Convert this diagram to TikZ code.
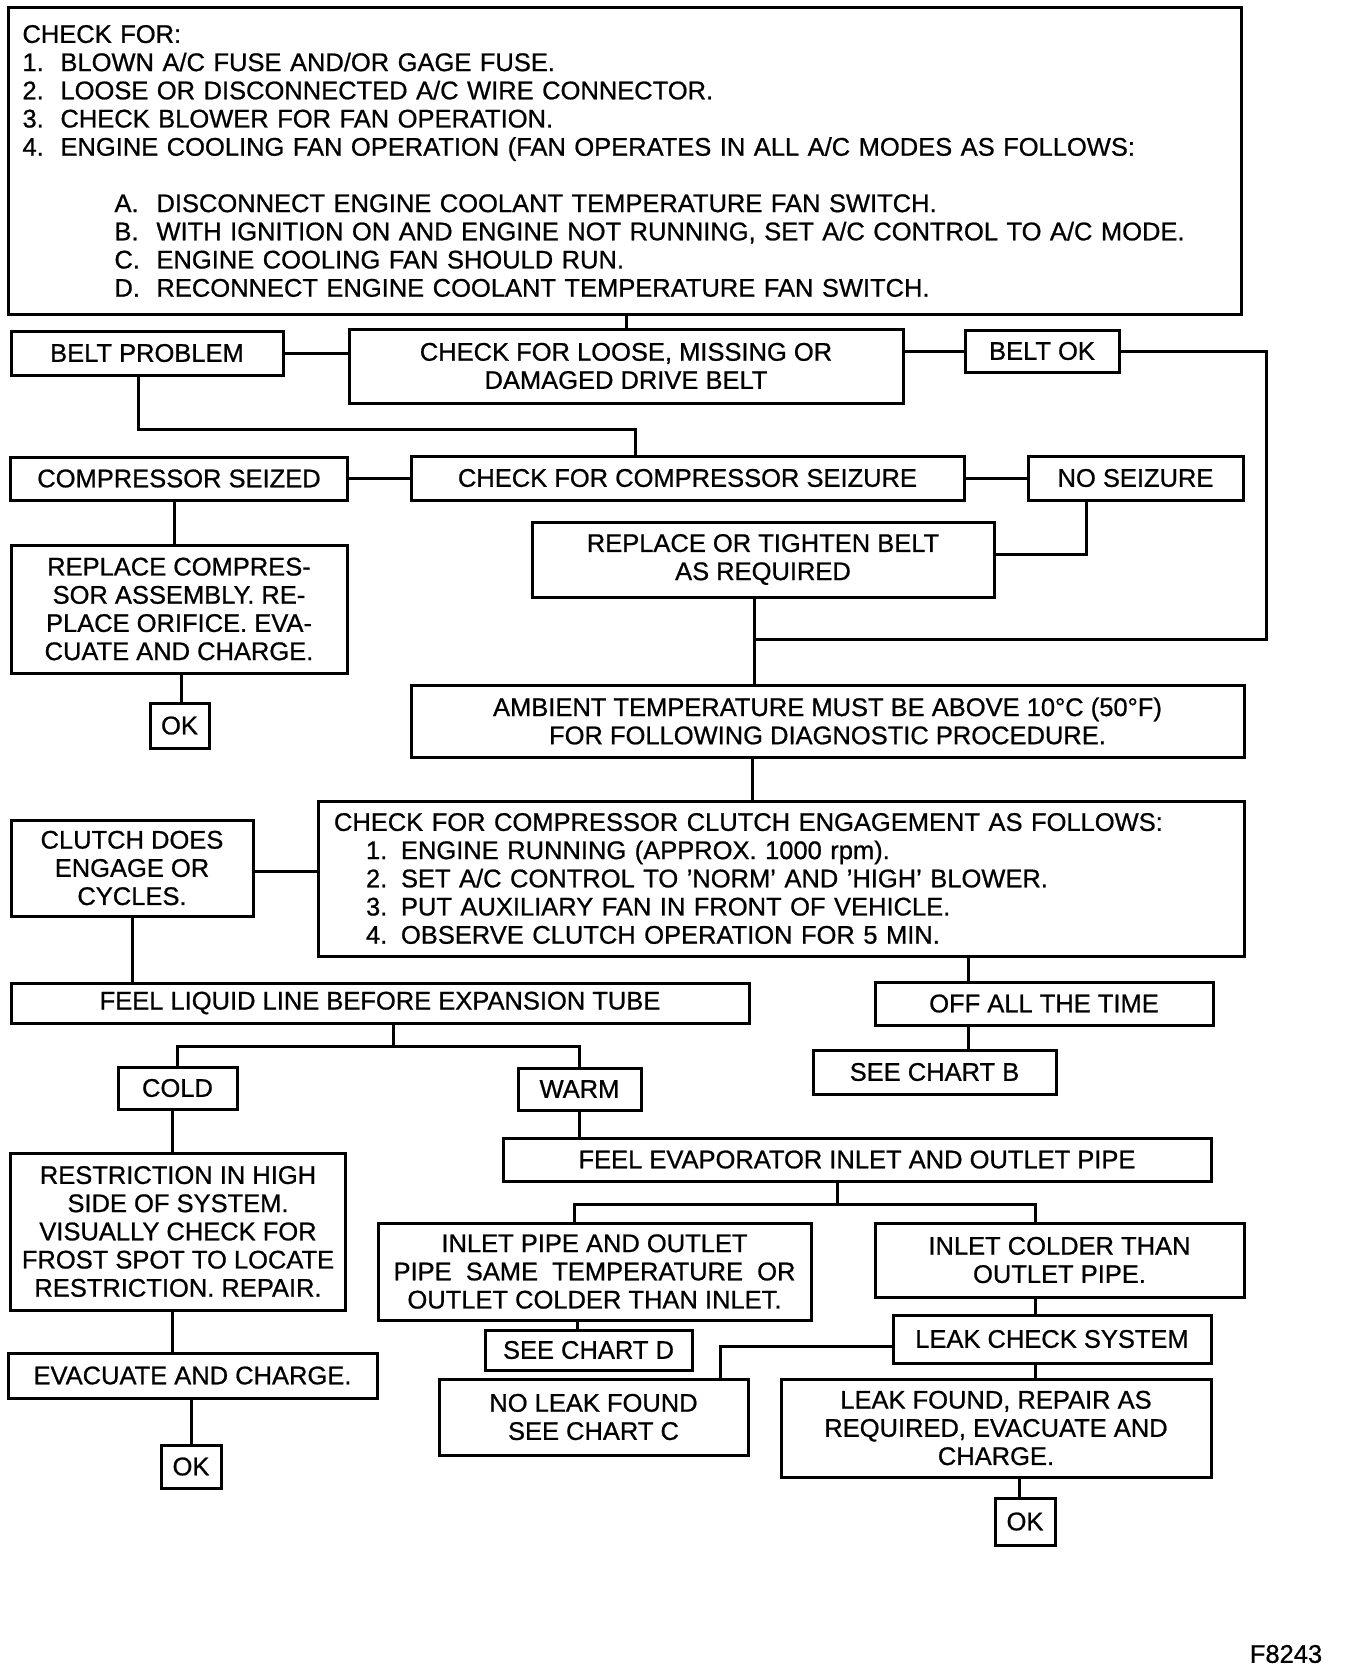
\documentclass[tikz,border=0pt]{standalone}
\usepackage{fontspec}
\setmainfont{Liberation Sans}[FakeBold=0.8]
\begin{document}
\begin{tikzpicture}[x=1pt,y=-1pt,
    every node/.style={font=\fontsize{25.5}{28.2}\selectfont},
    box/.style={draw,line width=3pt,align=center,inner sep=0pt},
    sz/.style 2 args={minimum width=#1,minimum height=#2},
    lnk/.style={line width=3pt}]
  \useasboundingbox (0,0) rectangle (1344,1670);
  % checks before the belt
  \node[box,sz={1233}{306},align=left,text width=1205pt] (top) at (625,161)
    {CHECK FOR:\\
     \makebox[38pt][l]{1.}BLOWN A/C FUSE AND/OR GAGE FUSE.\\
     \makebox[38pt][l]{2.}LOOSE OR DISCONNECTED A/C WIRE CONNECTOR.\\
     \makebox[38pt][l]{3.}CHECK BLOWER FOR FAN OPERATION.\\
     \makebox[38pt][l]{4.}ENGINE COOLING FAN OPERATION (FAN OPERATES IN ALL A/C MODES AS FOLLOWS:\\[28.2pt]
     \hspace*{92pt}\makebox[42pt][l]{A.}DISCONNECT ENGINE COOLANT TEMPERATURE FAN SWITCH.\\
     \hspace*{92pt}\makebox[42pt][l]{B.}WITH IGNITION ON AND ENGINE NOT RUNNING, SET A/C CONTROL TO A/C MODE.\\
     \hspace*{92pt}\makebox[42pt][l]{C.}ENGINE COOLING FAN SHOULD RUN.\\
     \hspace*{92pt}\makebox[42pt][l]{D.}RECONNECT ENGINE COOLANT TEMPERATURE FAN SWITCH.};
  % belt and compressor
  \node[box,sz={272}{44}] (beltprob) at (147,353) {BELT PROBLEM};
  \node[box,sz={554}{74}] (chkbelt) at (626,366) {CHECK FOR LOOSE, MISSING OR\\DAMAGED DRIVE BELT};
  \node[box,sz={154}{42}] (beltok) at (1042,351) {BELT OK};
  \node[box,sz={337}{43}] (seized) at (179,478.5) {COMPRESSOR SEIZED};
  \node[box,sz={553}{44}] (chkseize) at (687.5,478) {CHECK FOR COMPRESSOR SEIZURE};
  \node[box,sz={215}{44}] (noseize) at (1135.5,478) {NO SEIZURE};
  \node[box,sz={462}{75}] (tighten) at (763,559.5) {REPLACE OR TIGHTEN BELT\\AS REQUIRED};
  \node[box,sz={336}{128}] (replcomp) at (179,609)
    {REPLACE COMPRES-\\SOR ASSEMBLY. RE-\\PLACE ORIFICE. EVA-\\CUATE AND CHARGE.};
  \node[box,sz={59}{45}] (ok1) at (179.5,725.5) {OK};
  \node[box,sz={833}{72}] (ambient) at (827.5,721)
    {AMBIENT TEMPERATURE MUST BE ABOVE 10°C (50°F)\\FOR FOLLOWING DIAGNOSTIC PROCEDURE.};
  % clutch
  \node[box,sz={926}{155},align=left,text width=894pt] (clutchchk) at (781,878.5)
    {CHECK FOR COMPRESSOR CLUTCH ENGAGEMENT AS FOLLOWS:\\
     \hspace*{32pt}\makebox[35pt][l]{1.}ENGINE RUNNING (APPROX. 1000 rpm).\\
     \hspace*{32pt}\makebox[35pt][l]{2.}SET A/C CONTROL TO 'NORM' AND 'HIGH' BLOWER.\\
     \hspace*{32pt}\makebox[35pt][l]{3.}PUT AUXILIARY FAN IN FRONT OF VEHICLE.\\
     \hspace*{32pt}\makebox[35pt][l]{4.}OBSERVE CLUTCH OPERATION FOR 5 MIN.};
  \node[box,sz={242}{96}] (clutchok) at (132,868) {CLUTCH DOES\\ENGAGE OR\\CYCLES.};
  \node[box,sz={738}{40}] (liquid) at (380,1003) {FEEL LIQUID LINE BEFORE EXPANSION TUBE};
  \node[box,sz={338}{43}] (offall) at (1044,1003.5) {OFF ALL THE TIME};
  \node[box,sz={243}{44}] (chartb) at (934.5,1072) {SEE CHART B};
  \node[box,sz={119}{42}] (cold) at (177.5,1088) {COLD};
  \node[box,sz={123}{42}] (warm) at (579.5,1089) {WARM};
  \node[box,sz={335}{157}] (restrict) at (178,1231.5)
    {RESTRICTION IN HIGH\\SIDE OF SYSTEM.\\VISUALLY CHECK FOR\\FROST SPOT TO LOCATE\\RESTRICTION. REPAIR.};
  \node[box,sz={369}{45}] (evac) at (192.5,1375.5) {EVACUATE AND CHARGE.};
  \node[box,sz={60}{43}] (ok2) at (191,1466.5) {OK};
  % evaporator and leak check
  \node[box,sz={708}{43}] (evap) at (857,1159.5) {FEEL EVAPORATOR INLET AND OUTLET PIPE};
  \node[box,sz={433}{97}] (samet) at (594.5,1271.5)
    {INLET PIPE AND OUTLET\\PIPE\ \ SAME\ \ TEMPERATURE\ \ OR\\OUTLET COLDER THAN INLET.};
  \node[box,sz={369}{74}] (inletcold) at (1059.5,1260) {INLET COLDER THAN\\OUTLET PIPE.};
  \node[box,sz={207}{40}] (chartd) at (588.5,1350) {SEE CHART D};
  \node[box,sz={318}{48}] (leakchk) at (1052,1339) {LEAK CHECK SYSTEM};
  \node[box,sz={309}{76}] (noleak) at (593.5,1417) {NO LEAK FOUND\\SEE CHART C};
  \node[box,sz={430}{98}] (leakfound) at (996,1428)
    {LEAK FOUND, REPAIR AS\\REQUIRED, EVACUATE AND\\CHARGE.};
  \node[box,sz={60}{47}] (ok3) at (1025,1521.5) {OK};
  \node (figno) at (1286,1654) {F8243};
  % connectors
  \draw[lnk] (chkbelt.north) -- (chkbelt.north |- top.south);
  \draw[lnk] (beltprob.east) -- (beltprob.east -| chkbelt.west);
  \draw[lnk] (beltok.west) -- (beltok.west -| chkbelt.east);
  \coordinate (merge) at (754,639);
  \draw[lnk] (beltok.east) -- ++(146,0) |- (merge);
  \draw[lnk] ([xshift=-9]beltprob.south) -- ++(0,53) -| ([xshift=-52.5]chkseize.north);
  \draw[lnk] (seized.east) -- (seized.east -| chkseize.west);
  \draw[lnk] (noseize.west) -- (noseize.west -| chkseize.east);
  \draw[lnk] ([xshift=-49.5]noseize.south) |- ([yshift=5.5]tighten.east);
  \draw[lnk] ([xshift=-9]tighten.south) -- ([xshift=-9]tighten.south |- ambient.north);
  \draw[lnk] ([xshift=-5]seized.south) -- ([xshift=-5]seized.south |- replcomp.north);
  \draw[lnk] ([xshift=2]replcomp.south) -- ([xshift=2]replcomp.south |- ok1.north);
  \draw[lnk] ([xshift=-75.5]ambient.south) -- ([xshift=-75.5]ambient.south |- clutchchk.north);
  \draw[lnk] ([yshift=-3]clutchok.east) -- ([yshift=-3]clutchok.east -| clutchchk.west);
  \draw[lnk] (clutchok.south) -- (clutchok.south |- liquid.north);
  \draw[lnk] ([xshift=187]clutchchk.south) -- ([xshift=187]clutchchk.south |- offall.north);
  \draw[lnk] ([xshift=-76]offall.south) -- ([xshift=-76]offall.south |- chartb.north);
  \draw[lnk] ([xshift=13]liquid.south) -- ++(0,22) coordinate (lqsplit);
  \draw[lnk] (cold.north) |- (lqsplit) -| (warm.north);
  \draw[lnk] ([xshift=-5]cold.south) -- ([xshift=-5]cold.south |- restrict.north);
  \draw[lnk] (warm.south) -- (warm.south |- evap.north);
  \draw[lnk] ([xshift=-6]restrict.south) -- ([xshift=-6]restrict.south |- evac.north);
  \draw[lnk] (ok2.north) -- (ok2.north |- evac.south);
  \draw[lnk] ([xshift=-20]evap.south) -- ++(0,22) coordinate (evsplit);
  \draw[lnk] ([xshift=-20.5]samet.north) |- (evsplit) -| ([xshift=-24.5]inletcold.north);
  \draw[lnk] ([xshift=-17.5]samet.south) -- ([xshift=-17.5]samet.south |- chartd.north);
  \draw[lnk] ([xshift=-24.5]inletcold.south) -- ([xshift=-24.5]inletcold.south |- leakchk.north);
  \draw[lnk] ([yshift=-7]leakchk.west) -| ([xshift=126.5]noleak.north);
  \draw[lnk] ([xshift=-17]leakchk.south) -- ([xshift=-17]leakchk.south |- leakfound.north);
  \draw[lnk] ([xshift=-6]ok3.north) -- ([xshift=-6]ok3.north |- leakfound.south);
\end{tikzpicture}
\end{document}
